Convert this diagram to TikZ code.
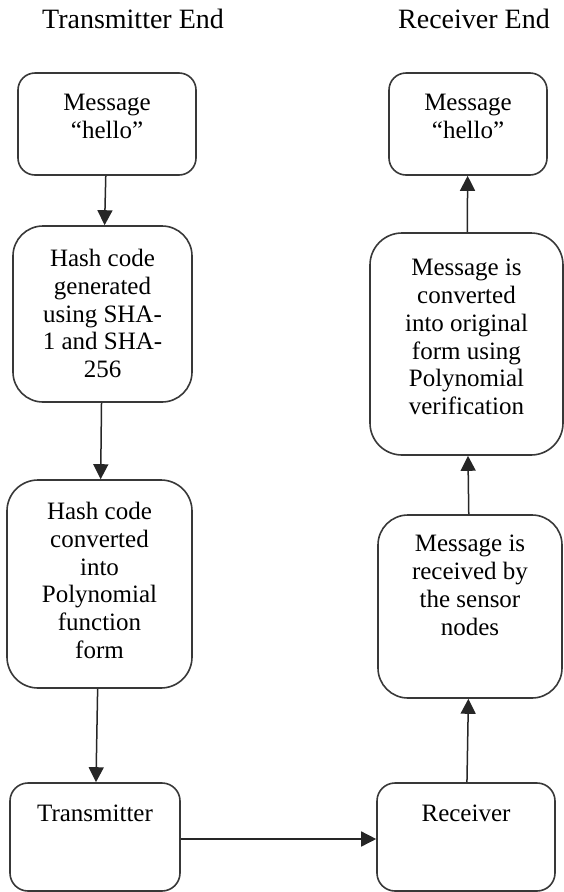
\documentclass[tikz,border=0pt]{standalone}
\usepackage{fontspec}
\setmainfont{Liberation Serif}
\usetikzlibrary{arrows.meta}
\begin{document}
\begin{tikzpicture}[x=1pt,y=-1pt,
  box/.style={draw=black!78, line width=1.6pt, inner sep=0pt, rounded corners=#1},
  txt/.style={align=center, inner sep=0pt, anchor=north, font=\fontsize{25}{27.7}\selectfont},
  ttl/.style={inner sep=0pt, anchor=base, font=\fontsize{28}{32}\selectfont},
  arr/.style={draw=black!85, line width=1.5pt, -{Triangle[length=15pt,width=15pt]}}]
\useasboundingbox (0,0) rectangle (564,892);

% titles
\node[ttl] (t1) at (133,28) {Transmitter End};
\node[ttl] (t2) at (474,28) {Receiver End};

% transmitter column
\node[box=17pt, minimum width=178pt, minimum height=102pt] (m1) at (107,124) {};
\node[txt] (m1t) at ([yshift=-22pt]m1.north) {Message\\“hello”};

\node[box=30pt, minimum width=179pt, minimum height=176pt] (h2) at (102.5,314) {};
\node[txt] (h2t) at ([yshift=-24pt]h2.north) {Hash code\\generated\\using SHA-\\1 and SHA-\\256};

\node[box=31pt, minimum width=185pt, minimum height=208pt] (h3) at (99.5,584) {};
\node[txt] (h3t) at ([yshift=-23pt]h3.north) {Hash code\\converted\\into\\Polynomial\\function\\form};

\node[box=18pt, minimum width=170pt, minimum height=108pt] (tx) at (95,837) {};
\node[txt] (txt) at ([yshift=-23pt]tx.north) {Transmitter};

% receiver column
\node[box=17pt, minimum width=158pt, minimum height=102pt] (m2) at (468,124) {};
\node[txt] (m2t) at ([yshift=-22pt]m2.north) {Message\\“hello”};

\node[box=32pt, minimum width=193pt, minimum height=222pt] (cv) at (466.5,344) {};
\node[txt] (cvt) at ([yshift=-27pt]cv.north) {Message is\\converted\\into original\\form using\\Polynomial\\verification};

\node[box=30pt, minimum width=184pt, minimum height=183pt] (rc) at (470,606.5) {};
\node[txt] (rct) at ([yshift=-21pt]rc.north) {Message is\\received by\\the sensor\\nodes};

\node[box=18pt, minimum width=178pt, minimum height=108pt] (rx) at (466,837) {};
\node[txt] (rxt) at ([yshift=-23pt]rx.north) {Receiver};

% connectors
\draw[arr] (m1) -- (h2);
\draw[arr] (h2) -- (h3);
\draw[arr] (h3) -- (tx);
\draw[arr] ([yshift=-2pt]tx.east) -- ([yshift=-2pt]rx.west);
\draw[arr] (rx) -- (rc);
\draw[arr] (rc) -- (cv);
\draw[arr] (cv) -- (m2);
\end{tikzpicture}
\end{document}
